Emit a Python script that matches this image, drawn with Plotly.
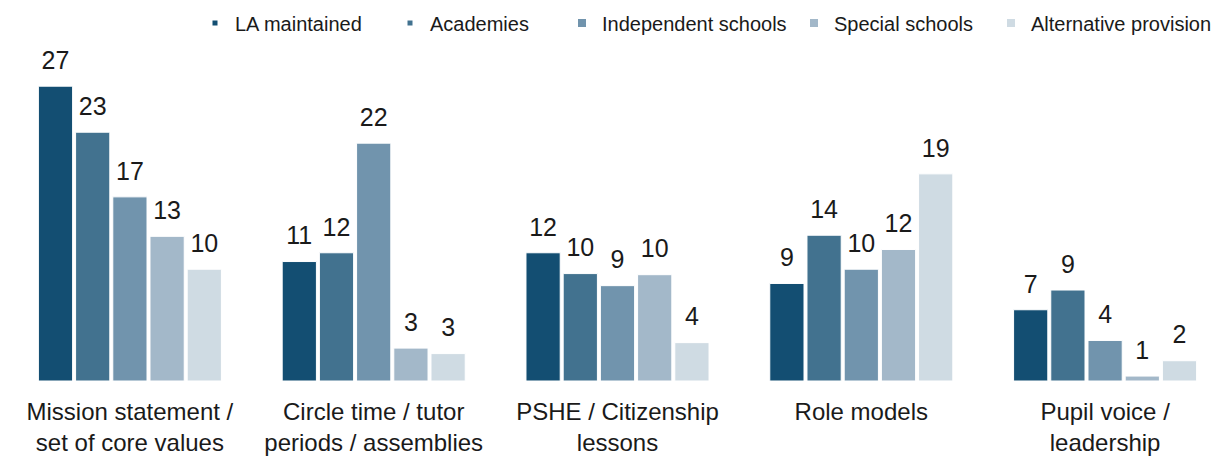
import plotly.graph_objects as go

categories = [
    "Mission statement /<br>set of core values",
    "Circle time / tutor<br>periods / assemblies",
    "PSHE / Citizenship<br>lessons",
    "Role models",
    "Pupil voice /<br>leadership",
]
series = ["LA maintained", "Academies", "Independent schools", "Special schools", "Alternative provision"]

# bar heights
la_maintained = [26.9, 10.9, 11.7, 8.9, 6.5]
academies = [22.7, 11.7, 9.8, 13.3, 8.3]
independent = [16.8, 21.7, 8.7, 10.2, 3.7]
special = [13.2, 3.0, 9.7, 12.0, 0.45]
alternative = [10.2, 2.5, 3.5, 18.9, 1.85]

# data labels as printed
la_maintained_lbl = [27, 11, 12, 9, 7]
academies_lbl = [23, 12, 10, 14, 9]
independent_lbl = [17, 22, 9, 10, 4]
special_lbl = [13, 3, 10, 12, 1]
alternative_lbl = [10, 3, 4, 19, 2]

values = [la_maintained, academies, independent, special, alternative]
labels = [la_maintained_lbl, academies_lbl, independent_lbl, special_lbl, alternative_lbl]
colors = ["#134E72", "#42728F", "#7194AD", "#A3B8C9", "#CFDBE3"]
legend_sizes = [5, 5, 8, 8, 8]
legend_text_px = [235, 430, 602, 834, 1031]

FONT = "Liberation Sans, Arial, sans-serif"
TXT = "#1a1a1a"
PAGE_OFF = 8  # default body margin of the html page
W, H = 1227 - PAGE_OFF, 457 - PAGE_OFF
ML, MR, MT, MB = 0, 0, 37, 76
PW = W - ML - MR
PH = H - MT - MB

fig = go.Figure()
for i, name in enumerate(series):
    fig.add_trace(go.Bar(
        x=categories, y=values[i], name=name,
        marker=dict(color=colors[i], line=dict(color="white", width=1)),
        showlegend=False, hoverinfo="skip",
    ))
for i, name in enumerate(series):
    fig.add_trace(go.Scatter(
        x=categories, y=values[i], mode="markers+text",
        text=[str(v) for v in labels[i]], textposition="top center",
        textfont=dict(family=FONT, size=25, color=TXT),
        marker=dict(size=16, color="rgba(0,0,0,0)"),
        showlegend=False, hoverinfo="skip", cliponaxis=False,
    ))
# legend entries
legend_layouts = {}
for i, name in enumerate(series):
    lname = "legend" if i == 0 else f"legend{i+1}"
    fig.add_trace(go.Scatter(
        x=[None], y=[None], mode="markers", name=name,
        marker=dict(symbol="square", size=legend_sizes[i], color=colors[i]),
        xaxis="x2", yaxis="y2", legend=lname, showlegend=True,
    ))
    legend_layouts[lname] = dict(
        xref="container", yref="container",
        x=(legend_text_px[i] - PAGE_OFF - 40) / W, xanchor="left",
        y=1 - (23 - PAGE_OFF) / H, yanchor="middle",
        orientation="h", font=dict(family=FONT, size=20, color=TXT),
        bgcolor="rgba(0,0,0,0)", itemsizing="trace", borderwidth=0,
    )

fig.update_layout(
    width=W, height=H,
    margin=dict(l=ML, r=MR, t=MT, b=MB, autoexpand=False),
    paper_bgcolor="white", plot_bgcolor="white",
    barmode="group", bargap=0.237, bargroupgap=0.08,
    scattermode="group", scattergap=0.237,
    font=dict(family=FONT, color=TXT),
    xaxis=dict(showgrid=False, showline=False, zeroline=False, ticks="",
               automargin=False, ticklabelstandoff=14,
               tickfont=dict(family=FONT, size=24, color=TXT), fixedrange=True),
    yaxis=dict(visible=False, range=[0, PH / 10.96], fixedrange=True, automargin=False),
    xaxis2=dict(visible=False, overlaying="x", range=[0, 1]),
    yaxis2=dict(visible=False, overlaying="y", range=[0, 1]),
    **legend_layouts,
)

fig.write_html("out.html")
